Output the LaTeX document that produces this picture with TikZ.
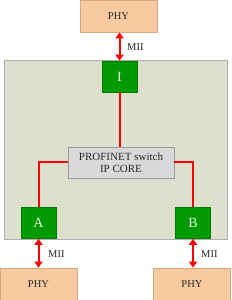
\documentclass[tikz,border=0pt]{standalone}
\usepackage{fontspec}
\setmainfont{Liberation Serif}
\usetikzlibrary{arrows.meta}
\definecolor{phyfill}{HTML}{F9C9A0}
\definecolor{phyline}{HTML}{D9A882}
\definecolor{chipfill}{HTML}{DDE0CD}
\definecolor{chipline}{HTML}{B0B0B0}
\definecolor{portfill}{HTML}{009A00}
\definecolor{portline}{HTML}{007A00}
\definecolor{corefill}{HTML}{D9D9D9}
\definecolor{coreline}{HTML}{999999}
\definecolor{wire}{HTML}{FF0000}
\begin{document}
\begin{tikzpicture}[x=1pt,y=1pt,
  phybox/.style={draw=phyline,fill=phyfill,line width=0.8pt,minimum width=77pt,minimum height=32pt,inner sep=0pt,font=\fontsize{10.5}{12}\selectfont,text=black!85},
  portbox/.style={draw=portline,fill=portfill,line width=0.6pt,minimum width=35pt,minimum height=31pt,inner sep=0pt,font=\fontsize{14}{16}\selectfont,text=white!90!green},
  corebox/.style={draw=coreline,fill=corefill,line width=0.6pt,minimum width=106pt,minimum height=31pt,inner sep=0pt,align=center,font=\fontsize{11}{12.5}\selectfont,text=black!85},
  link/.style={draw=wire,line width=2pt},
  mii/.style={draw=wire,line width=2pt,{Triangle[length=6pt,width=8pt]}-{Triangle[length=6pt,width=8pt]}},
  lbl/.style={font=\fontsize{10.5}{12}\selectfont,text=black!85,anchor=west,inner sep=1pt}]
\useasboundingbox (0,0) rectangle (231,300);
% chip
\node[draw=chipline,fill=chipfill,line width=0.8pt,minimum width=223pt,minimum height=179pt,inner sep=0pt] (chip) at (115.5,150.5) {};
% PHYs
\node[phybox] (phyT) at (118.5,284) {PHY};
\node[phybox] (phyA) at (38.5,16) {PHY};
\node[phybox] (phyB) at (192,16) {PHY};
% ports
\node[portbox] (I) at (119.5,223.5) {I};
\node[portbox] (A) at (38.5,77) {A};
\node[portbox] (B) at (193,77) {B};
% core
\node[corebox] (core) at (121,137.5) {PROFINET switch\\IP CORE};
% internal wires
\draw[link] (I.south) -- (I.south |- core.north);
\draw[link] (core.west) -| (A.north);
\draw[link] (core.east) -| (B.north);
% MII arrows
\draw[mii] (phyT.south -| I.north) -- (I.north);
\draw[mii] (A.south) -- (A.south |- phyA.north);
\draw[mii] (B.south) -- (B.south |- phyB.north);
\node[lbl] (m1) at (126,252.5) {MII};
\node[lbl] (m2) at (47,46) {MII};
\node[lbl] (m3) at (200,46) {MII};
\end{tikzpicture}
\end{document}
